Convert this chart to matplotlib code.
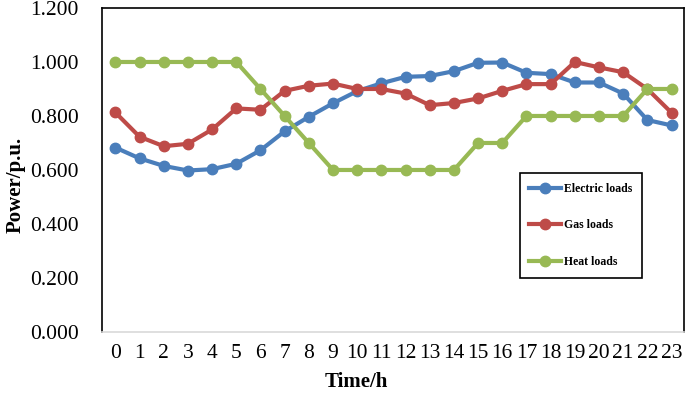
import numpy as np
import matplotlib.pyplot as plt

# hourly load data (p.u.)
hours = list(range(24))
electric = [0.683, 0.643, 0.615, 0.598, 0.603, 0.623, 0.673, 0.743, 0.797, 0.847,
            0.892, 0.921, 0.945, 0.948, 0.966, 0.997, 0.998, 0.960, 0.955, 0.924,
            0.924, 0.883, 0.785, 0.765]
gas = [0.813, 0.723, 0.688, 0.697, 0.750, 0.828, 0.823, 0.893, 0.912, 0.920,
       0.900, 0.900, 0.883, 0.840, 0.848, 0.865, 0.893, 0.918, 0.918, 1.000,
       0.980, 0.962, 0.900, 0.812]
heat = [1.0, 1.0, 1.0, 1.0, 1.0, 1.0, 0.9, 0.8, 0.7, 0.6,
        0.6, 0.6, 0.6, 0.6, 0.6, 0.7, 0.7, 0.8, 0.8, 0.8,
        0.8, 0.8, 0.9, 0.9]
yticks = [0.0, 0.2, 0.4, 0.6, 0.8, 1.0, 1.2]

plt.rcParams['font.family'] = ['Liberation Serif', 'DejaVu Serif']

fig = plt.figure(figsize=(6.85, 3.99), dpi=100)
ax = fig.add_axes([0.149, 0.168, 0.849, 0.812])

ax.plot(hours, electric, '-o', color='#4a7ebb', lw=3, ms=7.5, label='Electric loads')
ax.plot(hours, gas, '-o', color='#be4b48', lw=3, ms=7.5, label='Gas loads')
ax.plot(hours, heat, '-o', color='#98b954', lw=3, ms=7.5, label='Heat loads')

ax.set_xlim(-0.55, 23.5)
ax.set_ylim(0, 1.2)
ax.set_xticks(hours)
ax.set_xticklabels([str(h) for h in hours], fontsize=15.5)
ax.set_yticks(yticks)
ax.set_yticklabels(['%.3f' % v for v in yticks], fontsize=15.5)
ax.tick_params(axis='x', length=0, pad=9)
ax.tick_params(axis='y', length=0, pad=17)

for s in ['left', 'top', 'right']:
    ax.spines[s].set_color('black')
    ax.spines[s].set_linewidth(1.2)
ax.spines['bottom'].set_color('#d9d9d9')
ax.spines['bottom'].set_linewidth(1.2)

ax.set_xlabel('Time/h', fontsize=15, fontweight='bold')
ax.set_ylabel('Power/p.u.', fontsize=15, fontweight='bold')
ax.xaxis.set_label_coords(0.438, -0.125)
ax.yaxis.set_label_coords(-0.132, 0.454)

leg = ax.legend(loc='upper left', bbox_to_anchor=(0.718, 0.49),
                fancybox=False, edgecolor='black', handlelength=2.7,
                handletextpad=0.3, labelspacing=2.1, borderpad=0.8,
                borderaxespad=0, framealpha=1,
                prop={'family': 'Liberation Serif', 'weight': 'bold', 'size': 8.5})
leg.get_frame().set_linewidth(1.2)

plt.savefig('out.png', dpi=100)
